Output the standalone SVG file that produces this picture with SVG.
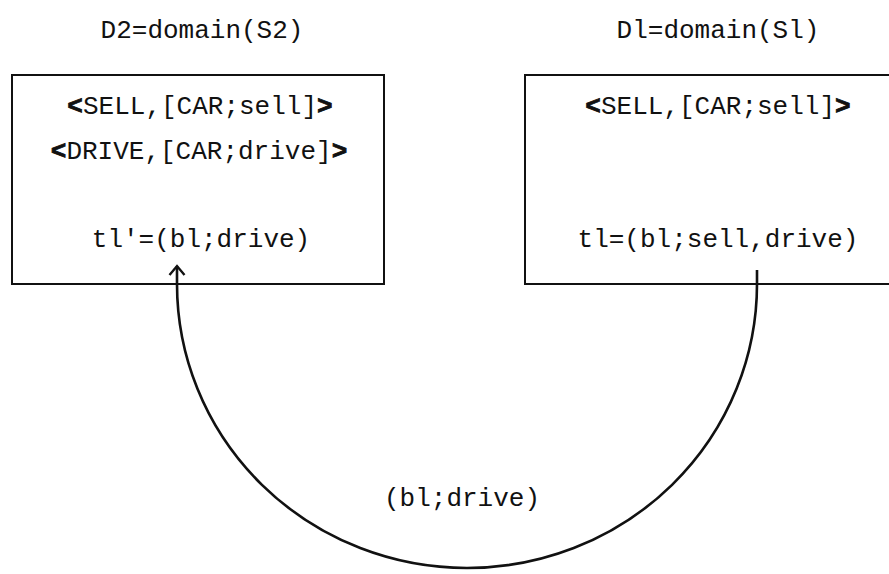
<svg xmlns="http://www.w3.org/2000/svg" width="889" height="574" viewBox="0 0 889 574">
  <style>
    .bg { fill: #ffffff; }
    .box { fill: none; stroke: #111; stroke-width: 2; }
    .t { font-family: "Liberation Mono", "DejaVu Sans Mono", monospace; font-size: 26px; fill: #111; text-anchor: middle; }
    .ang { font-weight: bold; stroke: #111; stroke-width: 0.8; }
    .edge { fill: none; stroke: #111; stroke-width: 2.6; }
  </style>
  <defs>
    <marker id="arrow" viewBox="0 0 20 20" refX="10" refY="10" markerWidth="20" markerHeight="20" markerUnits="userSpaceOnUse" orient="auto">
      <polyline points="1,2.5 10,10 1,17.5" fill="none" stroke="#111" stroke-width="2.4" stroke-linejoin="miter"/>
    </marker>
  </defs>
  <rect class="bg" x="0" y="0" width="889" height="574"/>

  <!-- domain headings -->
  <text class="t" x="202" y="38">D2=domain(S2)</text>
  <text class="t" x="718" y="38">Dl=domain(Sl)</text>

  <g id="domain-s2">
    <rect class="box" x="12" y="75" width="372" height="209"/>
    <text class="t" x="200" y="114"><tspan class="ang">&lt;</tspan>SELL,[CAR;sell]<tspan class="ang">&gt;</tspan></text>
    <text class="t" x="199" y="159"><tspan class="ang">&lt;</tspan>DRIVE,[CAR;drive]<tspan class="ang">&gt;</tspan></text>
    <text class="t" x="201" y="247">tl'=(bl;drive)</text>
  </g>

  <g id="domain-s1">
    <rect class="box" x="525" y="75" width="380" height="209"/>
    <text class="t" x="718" y="114"><tspan class="ang">&lt;</tspan>SELL,[CAR;sell]<tspan class="ang">&gt;</tspan></text>
    <text class="t" x="718" y="247">tl=(bl;sell,drive)</text>
  </g>

  <g id="connectors">
    <path class="edge" d="M757,270 L757,284 A290,284 0 0 1 177,284 L177,266" marker-end="url(#arrow)"/>
    <text class="t" x="462" y="506">(bl;drive)</text>
  </g>
</svg>
